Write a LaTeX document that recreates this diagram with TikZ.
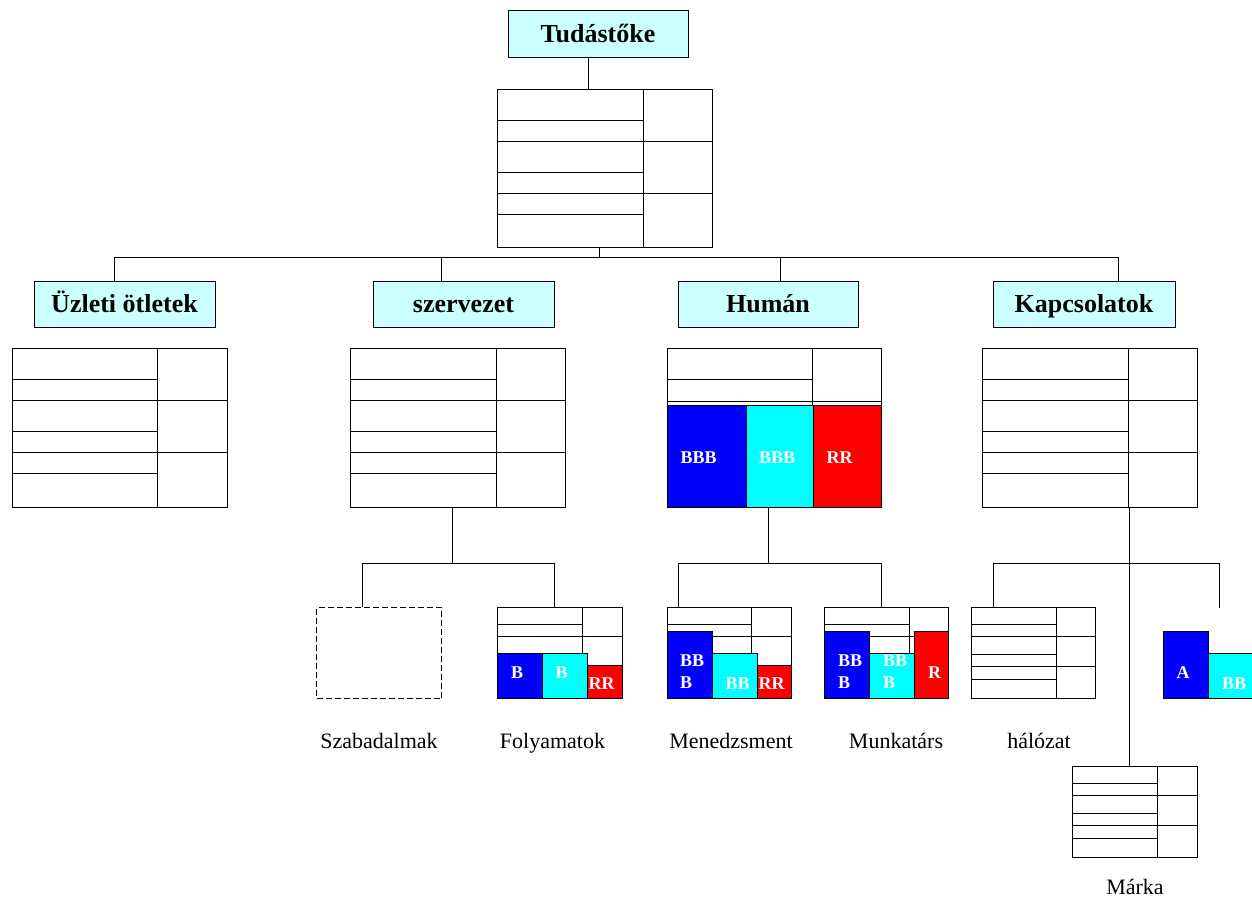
\documentclass[tikz,border=0pt]{standalone}
\usepackage{fontspec}
\setmainfont{Liberation Serif}
\definecolor{hdrcyan}{HTML}{CCFFFF}
\definecolor{pblue}{HTML}{0000FF}
\definecolor{pcyan}{HTML}{00FFFF}
\definecolor{pred}{HTML}{FF0000}
\tikzset{
  hdr/.style={draw, fill=hdrcyan, line width=1pt, minimum width=181pt, minimum height=46pt, inner sep=0pt,
    font=\fontsize{26}{30}\selectfont\bfseries, text height=17pt, text depth=0pt},
  tbl/.style={draw, line width=1pt, inner sep=0pt, anchor=north west},
  blk/.style={draw, line width=1pt, inner sep=0pt, anchor=north west},
  wlab/.style={text=white, font=\fontsize{18}{22}\selectfont\bfseries, inner sep=0pt},
  captxt/.style={font=\fontsize{22}{26}\selectfont, anchor=base, inner sep=0pt},
  conn/.style={line width=1pt}
}
\newcommand\kbtab[6]{%
  \node[tbl, minimum width=#4pt, minimum height=#5pt] (#1) at (#2,#3) {};
  \begin{scope}[shift={(#2,#3)}, yscale=#5/158]
    \draw[conn] (#6,0) -- (#6,158);
    \draw[conn] (0,31) -- (#6,31) (0,52) -- (#4,52) (0,83) -- (#6,83) (0,104) -- (#4,104) (0,125) -- (#6,125);
  \end{scope}}
\begin{document}
\begin{tikzpicture}[x=1pt,y=-1pt]
\useasboundingbox (0,0) rectangle (1252,897);
\clip (0,0) rectangle (1252,897);
% top
\node[hdr, minimum width=180pt, minimum height=47pt] (T) at (598,33.5) {Tudástőke};
\kbtab{T0}{497}{89}{215}{158}{146}
\draw[conn] ([xshift=-10pt]T.south) -- ([xshift=-10pt]T.south |- T0.north);
% headers
\node[hdr] (U) at (124.5,304) {Üzleti ötletek};
\node[hdr] (S) at (463.5,304) {szervezet};
\node[hdr, minimum width=180pt] (H) at (768,304) {Humán};
\node[hdr, minimum width=182pt] (K) at (1084,304) {Kapcsolatok};
% bus
\coordinate (bus) at (599,257);
\coordinate (bU) at (114,257);
\coordinate (bS) at (441,257);
\coordinate (bH) at (780,257);
\coordinate (bK) at (1118,257);
\draw[conn] (T0.south -| bus) -- (bus);
\draw[conn] (bU) -- (bK);
\draw[conn] (bU) -- (bU |- U.north);
\draw[conn] (bS) -- (bS |- S.north);
\draw[conn] (bH) -- (bH |- H.north);
\draw[conn] (bK) -- (bK |- K.north);
% category tables
\kbtab{U0}{12}{348}{215}{159}{145}
\kbtab{S0}{350}{348}{215}{159}{146}
\kbtab{K0}{982}{348}{215}{159}{146}
\node[tbl, minimum width=214pt, minimum height=159pt] (H0) at (667,348) {};
\draw[conn] (812,348) -- (812,405) (667,379) -- (812,379) (667,401) -- (881,401);
\node[blk, fill=pblue, minimum width=79pt, minimum height=102pt] (Hb) at (667,405) {};
\node[blk, fill=pcyan, minimum width=67pt, minimum height=102pt] (Hc) at (746,405) {};
\node[blk, fill=pred, minimum width=68pt, minimum height=102pt] (Hr) at (813,405) {};
\node[wlab, anchor=base] (Hbl) at (698.5,463) {BBB};
\node[wlab, anchor=base] (Hcl) at (777,463) {BBB};
\node[wlab, anchor=base] (Hrl) at (839.5,463) {RR};
% szervezet children
\coordinate (sj) at (452,563);
\coordinate (sl) at (362,563);
\coordinate (sr) at (554,563);
\node[draw, line width=1pt, dash pattern=on 6pt off 3pt, inner sep=0pt, anchor=north west, minimum width=125pt, minimum height=91pt] (P) at (316,607) {};
\kbtab{F0}{497}{607}{125}{91}{85}
\draw[conn] (S0.south -| sj) -- (sj);
\draw[conn] (sl) -- (sr);
\draw[conn] (sl) -- (sl |- P.north);
\draw[conn] (sr) -- (sr |- F0.north);
\node[blk, fill=pblue, minimum width=45pt, minimum height=45pt] (Fb) at (497,653) {};
\node[blk, fill=pcyan, minimum width=45pt, minimum height=45pt] (Fc) at (542,653) {};
\node[blk, fill=pred, minimum width=35pt, minimum height=33pt] (Fr) at (587,665) {};
\node[wlab, anchor=base] (Fbl) at (517,678) {B};
\node[wlab, anchor=base] (Fcl) at (561.5,678) {B};
\node[wlab, anchor=base] (Frl) at (601.5,689) {RR};
\node[captxt] (Pc) at (379,748) {Szabadalmak};
\node[captxt] (Fcap) at (552.5,748) {Folyamatok};
% human children
\coordinate (hj) at (768,563);
\coordinate (hl) at (678,563);
\coordinate (hr) at (881,563);
\kbtab{E0}{667}{607}{124}{91}{84}
\kbtab{W0}{824}{607}{124}{91}{85}
\draw[conn] (H0.south -| hj) -- (hj);
\draw[conn] (hl) -- (hr);
\draw[conn] (hl) -- (hl |- E0.north);
\draw[conn] (hr) -- (hr |- W0.north);
\node[blk, fill=pblue, minimum width=45pt, minimum height=67pt] (Eb) at (667,631) {};
\node[blk, fill=pcyan, minimum width=45pt, minimum height=45pt] (Ec) at (712,653) {};
\node[blk, fill=pred, minimum width=34pt, minimum height=33pt] (Er) at (757,665) {};
\node[wlab, align=left, anchor=north west] (Ebl) at (680,655) {BB\\B};
\node[wlab, anchor=base] (Ecl) at (737.5,689) {BB};
\node[wlab, anchor=base] (Erl) at (771.5,689) {RR};
\node[blk, fill=pblue, minimum width=45pt, minimum height=67pt] (Wb) at (824,631) {};
\node[blk, fill=pcyan, minimum width=45pt, minimum height=45pt] (Wc) at (869,653) {};
\node[blk, fill=pred, minimum width=34pt, minimum height=67pt] (Wr) at (914,631) {};
\node[wlab, align=left, anchor=north west] (Wbl) at (838,655) {BB\\B};
\node[wlab, align=left, anchor=north west] (Wcl) at (883,655) {BB\\B};
\node[wlab, anchor=base] (Wrl) at (934.5,678) {R};
\node[captxt] (Ecap) at (731,748) {Menedzsment};
\node[captxt] (Wcap) at (896,748) {Munkatárs};
% kapcsolatok children
\coordinate (kj) at (1129,563);
\coordinate (kl) at (993,563);
\coordinate (kr) at (1219,563);
\coordinate (ke) at (1219,608);
\kbtab{N0}{971}{607}{124}{91}{85}
\kbtab{M0}{1072}{766}{125}{91}{85}
\draw[conn] (K0.south -| kj) -- (kj |- M0.north);
\draw[conn] (kl) -- (kr);
\draw[conn] (kl) -- (kl |- N0.north);
\draw[conn] (kr) -- (ke);
\node[blk, fill=pblue, minimum width=45pt, minimum height=67pt] (Ab) at (1163,631) {};
\node[blk, fill=pcyan, minimum width=50pt, minimum height=45pt] (Ac) at (1208,653) {};
\node[wlab, anchor=base] (Abl) at (1183,678) {A};
\node[wlab, anchor=base] (Acl) at (1234,689) {BB};
\node[captxt] (Ncap) at (1039,748) {hálózat};
\node[captxt] (Mcap) at (1135,894) {Márka};
\end{tikzpicture}
\end{document}
